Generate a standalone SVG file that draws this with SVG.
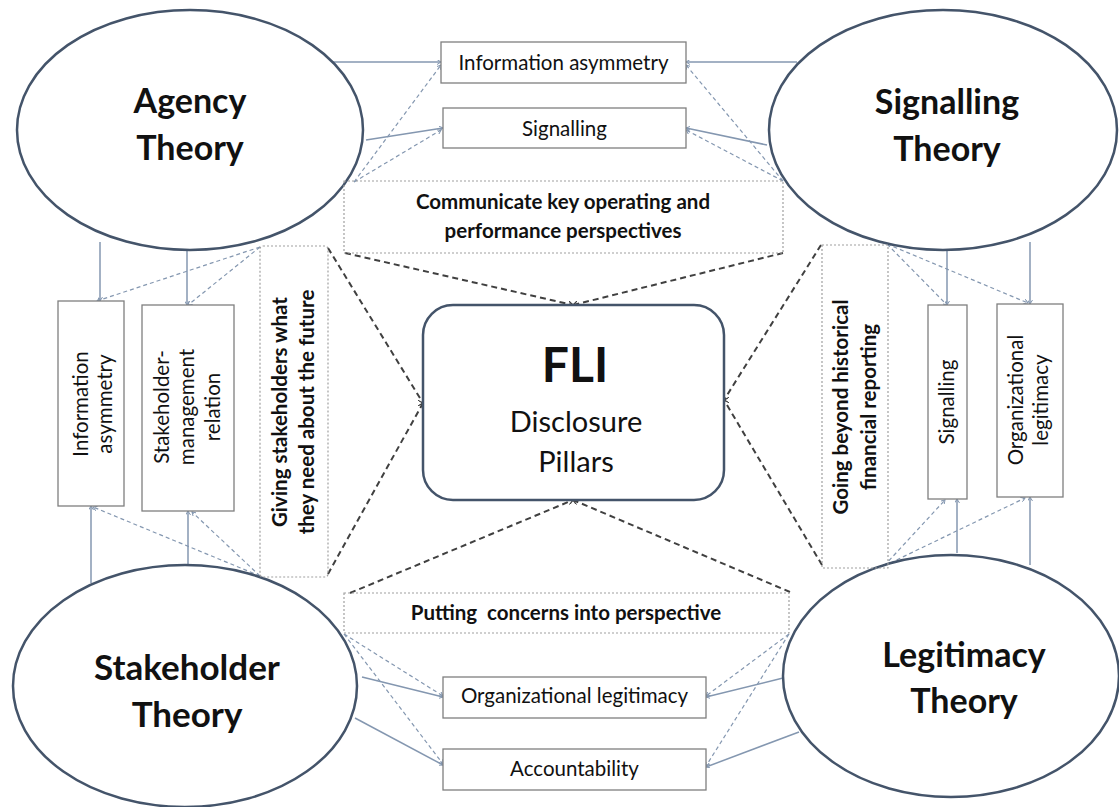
<svg xmlns="http://www.w3.org/2000/svg" width="1119" height="807" viewBox="0 0 1119 807">
<style>
.ell{fill:#fff;stroke:#44546a;stroke-width:2.5}
.box{fill:#fff;stroke:#7f7f7f;stroke-width:1.3}
.dbox{fill:none;stroke:#a0a0a0;stroke-width:1.2;stroke-dasharray:2 2}
.fli{fill:#fff;stroke:#44546a;stroke-width:2.5}
.sol{stroke:#8497b0;stroke-width:1.5;fill:none;marker-end:url(#ab)}
.td{stroke:#8497b0;stroke-width:1.2;stroke-dasharray:4 3;fill:none;marker-end:url(#ab)}
.kd{stroke:#404040;stroke-width:2;stroke-dasharray:6 4;fill:none;marker-end:url(#ak)}
text{font-family:Lato,"Liberation Sans",sans-serif;fill:#111;text-anchor:middle}
.big{font-size:34px;font-weight:bold}
.lab{font-size:20.5px}
.bl{font-size:20.5px;font-weight:bold}
</style>
<defs>
<marker id="ab" markerWidth="5" markerHeight="5" refX="4" refY="2.5" orient="auto" markerUnits="userSpaceOnUse"><path d="M0,0 L4,2.5 L0,5" fill="none" stroke="#8497b0" stroke-width="1"/></marker>
<marker id="ak" markerWidth="6" markerHeight="6" refX="5" refY="3" orient="auto" markerUnits="userSpaceOnUse"><path d="M0,0 L5,3 L0,6" fill="none" stroke="#404040" stroke-width="1.2"/></marker>
</defs>
<rect width="1119" height="807" fill="#fff"/>
<g id="connectors">
<line class="sol" x1="330" y1="62" x2="441" y2="62"/>
<line class="sol" x1="366" y1="140" x2="443" y2="128"/>
<line class="sol" x1="797" y1="62" x2="686" y2="62"/>
<line class="sol" x1="767" y1="145" x2="686" y2="128"/>
<line class="sol" x1="100" y1="242" x2="100" y2="301"/>
<line class="sol" x1="187" y1="249" x2="187" y2="305"/>
<line class="sol" x1="91" y1="583" x2="91" y2="506"/>
<line class="sol" x1="188" y1="565" x2="188" y2="511"/>
<line class="sol" x1="947" y1="249" x2="947" y2="305"/>
<line class="sol" x1="1030" y1="242" x2="1030" y2="304"/>
<line class="sol" x1="957" y1="553" x2="957" y2="499"/>
<line class="sol" x1="1030" y1="565" x2="1030" y2="497"/>
<line class="sol" x1="362" y1="677" x2="443" y2="697"/>
<line class="sol" x1="355" y1="718" x2="443" y2="765"/>
<line class="sol" x1="783" y1="678" x2="706" y2="697"/>
<line class="sol" x1="799" y1="732" x2="706" y2="767"/>
<line class="td" x1="354" y1="182" x2="441" y2="65"/>
<line class="td" x1="354" y1="182" x2="441" y2="130"/>
<line class="td" x1="783" y1="181" x2="686" y2="65"/>
<line class="td" x1="783" y1="181" x2="686" y2="130"/>
<line class="td" x1="260" y1="247" x2="97" y2="301"/>
<line class="td" x1="260" y1="247" x2="188" y2="305"/>
<line class="td" x1="260" y1="576" x2="93" y2="507"/>
<line class="td" x1="260" y1="576" x2="192" y2="512"/>
<line class="td" x1="887" y1="244" x2="947" y2="305"/>
<line class="td" x1="887" y1="244" x2="1028" y2="303"/>
<line class="td" x1="884" y1="566" x2="945" y2="500"/>
<line class="td" x1="884" y1="566" x2="1025" y2="498"/>
<line class="td" x1="344" y1="634" x2="443" y2="696"/>
<line class="td" x1="344" y1="634" x2="443" y2="764"/>
<line class="td" x1="789" y1="634" x2="706" y2="696"/>
<line class="td" x1="789" y1="634" x2="706" y2="766"/>
<line class="kd" x1="345" y1="253" x2="573" y2="305"/>
<line class="kd" x1="783" y1="253" x2="573" y2="305"/>
<line class="kd" x1="328" y1="248" x2="423" y2="403"/>
<line class="kd" x1="328" y1="574" x2="423" y2="403"/>
<line class="kd" x1="821" y1="245" x2="724" y2="400"/>
<line class="kd" x1="822" y1="565" x2="724" y2="400"/>
<line class="kd" x1="350" y1="593" x2="573" y2="500"/>
<line class="kd" x1="790" y1="592" x2="573" y2="500"/>
</g>
<g id="agency">
<ellipse class="ell" cx="190" cy="130" rx="173" ry="120"/>
<text class="big" x="190" y="113">Agency</text>
<text class="big" x="190" y="160">Theory</text>
</g>
<g id="signalling-theory">
<ellipse class="ell" cx="943" cy="130" rx="174" ry="120"/>
<text class="big" x="947" y="114">Signalling</text>
<text class="big" x="947" y="161">Theory</text>
</g>
<g id="stakeholder-theory">
<ellipse class="ell" cx="185" cy="686" rx="172" ry="121"/>
<text class="big" x="187" y="680" style="font-size:35px">Stakeholder</text>
<text class="big" x="187" y="727" style="font-size:35px">Theory</text>
</g>
<g id="legitimacy-theory">
<ellipse class="ell" cx="951" cy="676" rx="168" ry="121"/>
<text class="big" x="964" y="667">Legitimacy</text>
<text class="big" x="964" y="713">Theory</text>
</g>
<g id="communicate">
<rect class="dbox" x="344" y="181" width="439" height="72"/>
<text class="bl" x="563" y="209">Communicate key operating and</text>
<text class="bl" x="563" y="238">performance perspectives</text>
</g>
<g id="giving">
<rect class="dbox" x="260" y="246" width="68" height="331" rx="3"/>
<text class="bl" x="287" y="412" transform="rotate(-90 287 412)">Giving stakeholders what</text>
<text class="bl" x="314" y="412" transform="rotate(-90 314 412)">they need about the future</text>
</g>
<g id="going">
<rect class="dbox" x="822" y="245" width="66" height="323"/>
<text class="bl" x="848" y="407" transform="rotate(-90 848 407)">Going beyond historical</text>
<text class="bl" x="876" y="407" transform="rotate(-90 876 407)">financial reporting</text>
</g>
<g id="putting">
<rect class="dbox" x="344" y="593" width="445" height="40"/>
<text class="bl" x="566" y="620" style="white-space:pre">Putting  concerns into perspective</text>
</g>
<g id="top-info-asymmetry">
<rect class="box" x="441" y="42" width="245" height="41"/>
<text class="lab" x="563.5" y="70">Information asymmetry</text>
</g>
<g id="top-signalling">
<rect class="box" x="443" y="108" width="243" height="40"/>
<text class="lab" x="564.5" y="136">Signalling</text>
</g>
<g id="left-info-asymmetry">
<rect class="box" x="58" y="301" width="66" height="205"/>
<text class="lab" x="88" y="404" transform="rotate(-90 88 404)">Information</text>
<text class="lab" x="112" y="404" transform="rotate(-90 112 404)">asymmetry</text>
</g>
<g id="left-stakeholder-management">
<rect class="box" x="142" y="305" width="92" height="206"/>
<text class="lab" x="169" y="407" transform="rotate(-90 169 407)">Stakeholder-</text>
<text class="lab" x="194" y="407" transform="rotate(-90 194 407)">management</text>
<text class="lab" x="220" y="407" transform="rotate(-90 220 407)">relation</text>
</g>
<g id="right-signalling">
<rect class="box" x="928" y="305" width="39" height="194"/>
<text class="lab" x="954" y="402" transform="rotate(-90 954 402)">Signalling</text>
</g>
<g id="right-org-legitimacy">
<rect class="box" x="997" y="304" width="66" height="193"/>
<text class="lab" x="1023" y="400" transform="rotate(-90 1023 400)">Organizational</text>
<text class="lab" x="1048" y="400" transform="rotate(-90 1048 400)">legitimacy</text>
</g>
<g id="bottom-org-legitimacy">
<rect class="box" x="443" y="677" width="263" height="41"/>
<text class="lab" x="574.5" y="703">Organizational legitimacy</text>
</g>
<g id="bottom-accountability">
<rect class="box" x="443" y="749" width="263" height="41"/>
<text class="lab" x="574.5" y="776">Accountability</text>
</g>
<g id="fli">
<rect class="fli" x="423" y="305" width="301" height="195" rx="30"/>
<text x="575" y="382" style="font-size:48px;font-weight:bold">FLI</text>
<text x="576" y="432" style="font-size:29px">Disclosure</text>
<text x="576" y="472" style="font-size:29px">Pillars</text>
</g>
</svg>
